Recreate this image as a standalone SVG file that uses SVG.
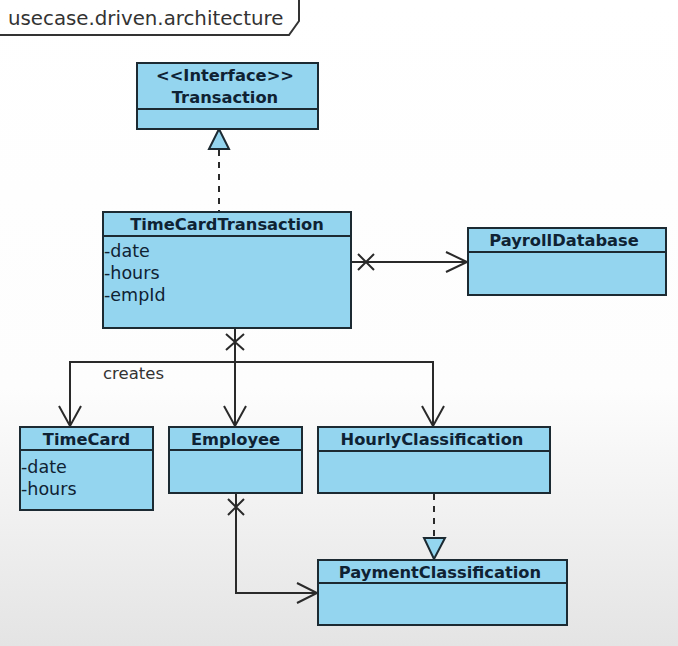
<svg xmlns="http://www.w3.org/2000/svg" width="678" height="646" viewBox="0 0 678 646">
<defs>
<linearGradient id="bg" x1="0" y1="0" x2="0" y2="1">
<stop offset="0" stop-color="#ffffff"/>
<stop offset="0.6" stop-color="#fdfdfd"/>
<stop offset="1" stop-color="#e4e4e4"/>
</linearGradient>
<style>
.box{fill:#94d5ef;stroke:#1c2a32;stroke-width:2}
.name{font-family:"DejaVu Sans",sans-serif;font-weight:bold;font-size:16.3px;fill:#0f2233;text-anchor:middle}
.attr{font-family:"DejaVu Sans",sans-serif;font-size:17.5px;fill:#0f2233}
.ln{fill:none;stroke:#2a2a2a;stroke-width:2}
.dash{fill:none;stroke:#2a2a2a;stroke-width:2;stroke-dasharray:6 6}
.tri{fill:#94d5ef;stroke:#1c2a32;stroke-width:2;stroke-linejoin:miter}
.lbl{font-family:"DejaVu Sans",sans-serif;font-size:16.5px;fill:#333333}
</style>
</defs>
<rect x="0" y="0" width="678" height="646" fill="url(#bg)"/>
<g id="frame">
<path d="M0,35 H289 L299,21 V0" fill="none" stroke="#333" stroke-width="2"/>
<text x="8" y="25" font-family="DejaVu Sans, sans-serif" font-size="19.8" fill="#333">usecase.driven.architecture</text>
</g>
<g id="connectors">
<line class="dash" x1="219" y1="150" x2="219" y2="212"/>
<polygon class="tri" points="219,129 209,149 229,149"/>
<line class="ln" x1="351" y1="262" x2="467" y2="262"/>
<path class="ln" d="M446,252 L467,262 L446,272"/>
<path class="ln" d="M358,254 L374,270 M358,270 L374,254"/>
<line class="ln" x1="235" y1="328" x2="235" y2="426"/>
<path class="ln" d="M70,426 V362 H433 V426"/>
<path class="ln" d="M226,334 L244,350 M226,350 L244,334"/>
<path class="ln" d="M59,406 L70,426 L81,406"/>
<path class="ln" d="M224,406 L235,426 L246,406"/>
<path class="ln" d="M422,406 L433,426 L444,406"/>
<text class="lbl" x="103" y="379">creates</text>
<path class="ln" d="M236,493 V593 H317"/>
<path class="ln" d="M228,499 L244,515 M228,515 L244,499"/>
<path class="ln" d="M297,583 L317,593 L297,603"/>
<line class="dash" x1="434" y1="494" x2="434" y2="538"/>
<polygon class="tri" points="424,538 445,538 434,559"/>
</g>
<g id="Transaction">
<rect class="box" x="137" y="63" width="181" height="66"/>
<line class="box" x1="137" y1="109" x2="318" y2="109"/>
<text class="name" x="225" y="81">&lt;&lt;Interface&gt;&gt;</text>
<text class="name" x="225" y="103">Transaction</text>
</g>
<g id="TimeCardTransaction">
<rect class="box" x="103" y="212" width="248" height="116"/>
<line class="box" x1="103" y1="236" x2="351" y2="236"/>
<text class="name" x="227" y="230">TimeCardTransaction</text>
<text class="attr" x="104" y="257">-date</text>
<text class="attr" x="104" y="279">-hours</text>
<text class="attr" x="104" y="301">-empId</text>
</g>
<g id="PayrollDatabase">
<rect class="box" x="468" y="228" width="198" height="67"/>
<line class="box" x1="468" y1="252" x2="666" y2="252"/>
<text class="name" x="564" y="246">PayrollDatabase</text>
</g>
<g id="TimeCard">
<rect class="box" x="20" y="427" width="133" height="83"/>
<line class="box" x1="20" y1="450" x2="153" y2="450"/>
<text class="name" x="86.5" y="445">TimeCard</text>
<text class="attr" x="21" y="473">-date</text>
<text class="attr" x="21" y="495">-hours</text>
</g>
<g id="Employee">
<rect class="box" x="169" y="427" width="133" height="66"/>
<line class="box" x1="169" y1="450" x2="302" y2="450"/>
<text class="name" x="235.5" y="445">Employee</text>
</g>
<g id="HourlyClassification">
<rect class="box" x="318" y="427" width="232" height="66"/>
<line class="box" x1="318" y1="451" x2="550" y2="451"/>
<text class="name" x="432" y="445">HourlyClassification</text>
</g>
<g id="PaymentClassification">
<rect class="box" x="318" y="560" width="249" height="65"/>
<line class="box" x1="318" y1="583" x2="567" y2="583"/>
<text class="name" x="440" y="578">PaymentClassification</text>
</g>
</svg>
